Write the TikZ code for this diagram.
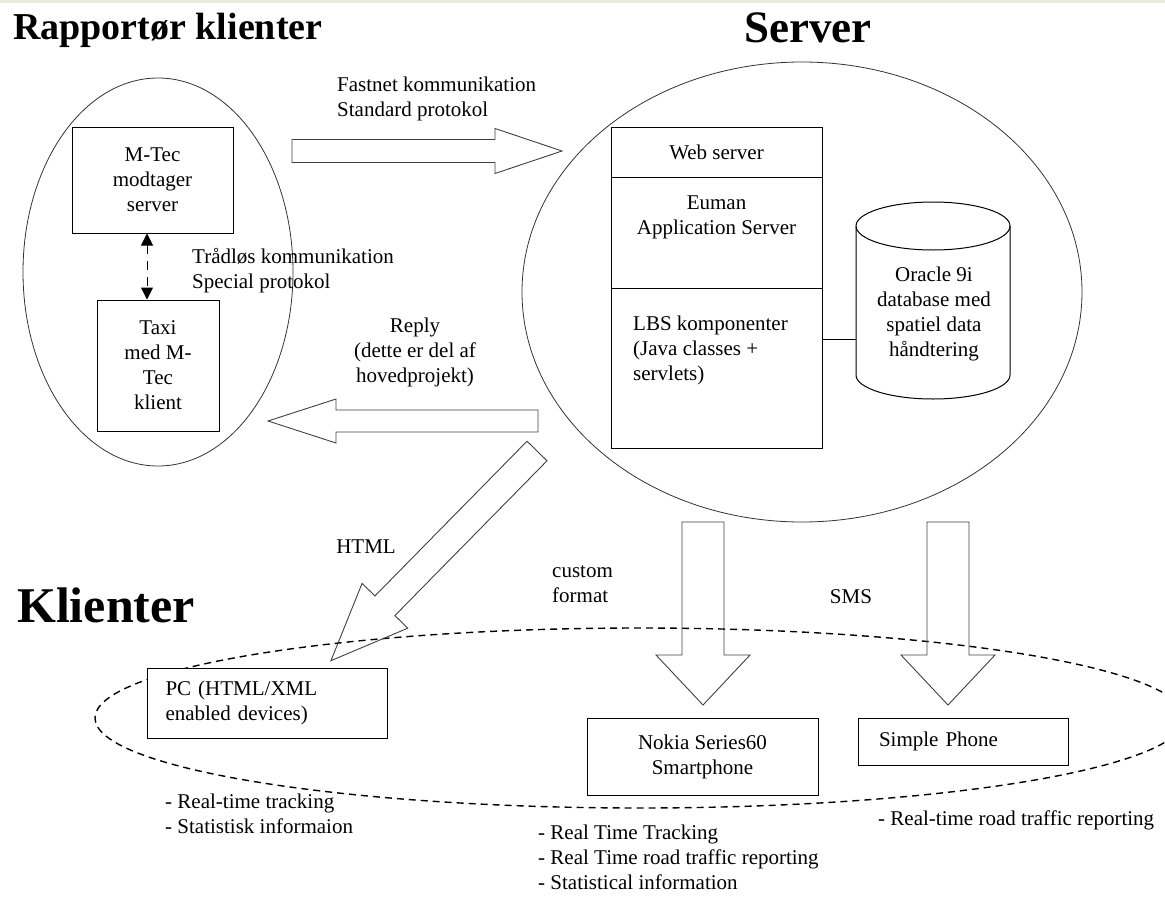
\documentclass[tikz,border=0pt]{standalone}
\usepackage{fontspec}
\setmainfont{Liberation Serif}
\usetikzlibrary{shapes.geometric,arrows.meta}
\definecolor{barbeige}{RGB}{236,233,216}
\tikzset{
  txt/.style={font=\fontsize{21}{25}\selectfont, inner sep=0pt},
  heading/.style={font=\bfseries\fontsize{#1}{#1}\selectfont, inner sep=0pt},
  box/.style={draw, fill=white, line width=1pt, font=\fontsize{21}{25}\selectfont, align=center, inner sep=0pt},
  bubble/.style={ellipse, draw=black!80, line width=0.8pt},
  blockline/.style={draw=black!75, line width=0.9pt},
  pics/blockarrow/.style n args={4}{code={
    \draw[blockline] (0,-#2) -- ({#1-#4},-#2) -- ({#1-#4},-#3) -- (#1,0)
      -- ({#1-#4},#3) -- ({#1-#4},#2) -- (0,#2) -- cycle;
  }}
}
\begin{document}
\begin{tikzpicture}[x=1pt,y=-1pt]
\useasboundingbox (0,0) rectangle (1165,897);
\fill[barbeige] (0,0) rectangle (1165,3);

%HEADINGS
\node[heading=38,anchor=west] (h1) at (13,30) {Rapportør klienter};
\node[heading=45] (h2) at (808,28) {Server};
\node[heading=50] (h3) at (106,605) {Klienter};

%REPORTERS
\node[bubble,minimum width=270,minimum height=388] (reporters) at (158,272) {};
\node[box,minimum width=161,minimum height=106] (mtec) at (152.5,180) {M-Tec\\modtager\\server};
\node[box,minimum width=122,minimum height=131] (taxi) at (158,365.5) {Taxi\\med M-\\Tec\\klient};
\draw[dash pattern=on 9pt off 7pt,line width=1pt,{Triangle[length=12pt,width=12pt]}-{Triangle[length=12pt,width=12pt]}] ([xshift=-5.5pt]mtec.south) -- ([xshift=-5.5pt]mtec.south |- taxi.north);
\node[txt,align=left,anchor=west] (wirelesslbl) at (192,270.5) {Trådløs kommunikation\\Special protokol};

%SERVER
\node[bubble,minimum width=560,minimum height=460] (server) at (802,292) {};
\node[box,minimum width=211,minimum height=50] (web) at (716.5,152) {Web server};
\node[box,minimum width=211,minimum height=111] (euman) at (716.5,232.5) {};
\node[box,minimum width=211,minimum height=160] (lbs) at (716.5,368) {};
\node[txt,align=center] (eumantxt) at (716.5,217.5) {Euman\\Application Server};
\node[txt,align=left,anchor=west] (lbstxt) at (633,350) {LBS komponenter\\(Java classes +\\servlets)};

\draw[line width=1pt] (856,226) -- (856,375) .. controls (856,388.2) and (890.5,399) .. (933,399)
  .. controls (975.5,399) and (1010,388.2) .. (1010,375) -- (1010,226);
\draw[line width=1pt] (933,226) ellipse [x radius=77pt, y radius=24pt];
\node[txt,align=center] (oracle) at (934,314) {Oracle 9i\\database med\\spatiel data\\håndtering};
\coordinate (dbport) at (856,339);
\draw[line width=1pt] (lbs.east |- dbport) -- (dbport);

%CLIENTS
\node[ellipse,draw,dash pattern=on 7pt off 5pt,line width=1.4pt,minimum width=1090,minimum height=180] (clients) at (640,718) {};
\node[box,minimum height=70,text width=204pt,align=left,inner xsep=18pt] (pc) at (267.5,703) {PC (HTML/XML\\enabled devices)};
\node[box,minimum width=231,minimum height=77] (nokia) at (702.5,756.5) {Nokia Series60\\Smartphone};
\node[box,minimum height=47,text width=168pt,align=left,inner xsep=21pt] (simple) at (963,741.5) {Simple Phone};

\node[txt,align=left,anchor=west] (pcnotes) at (165,813.5) {- Real-time tracking\\- Statistisk informaion};
\node[txt,align=left,anchor=west] (nokianotes) at (538,857) {- Real Time Tracking\\- Real Time road traffic reporting\\- Statistical information};
\node[txt,anchor=west] (simplenotes) at (878,820) {- Real-time road traffic reporting};

%BLOCK ARROWS
\coordinate (fastnettail) at (292,151);
\coordinate (replytail) at (538,421);
\coordinate (htmltail) at (537,451);
\coordinate (customtail) at (703,522);
\coordinate (smstail) at (948,522);

\pic at (fastnettail) {blockarrow={270}{11.5}{22.5}{67}};
\pic[rotate=180] at (replytail) {blockarrow={270}{11}{22}{68}};
\pic[rotate=225.5] at (htmltail) {blockarrow={294}{14}{32}{77}};
\pic[rotate=-90] at (customtail) {blockarrow={183}{21}{47}{50}};
\pic[rotate=-90] at (smstail) {blockarrow={183}{21}{47}{50}};

\node[txt,align=left,anchor=west] (fastnetlbl) at (337,99) {Fastnet kommunikation\\Standard protokol};
\node[txt,align=center] (replylbl) at (415,352) {Reply\\(dette er del af\\hovedprojekt)};
\node[txt] (htmllbl) at (366,547) {HTML};
\node[txt,align=left,anchor=west] (customlbl) at (552,584) {custom\\format};
\node[txt] (smslbl) at (851,597) {SMS};

\end{tikzpicture}
\end{document}
